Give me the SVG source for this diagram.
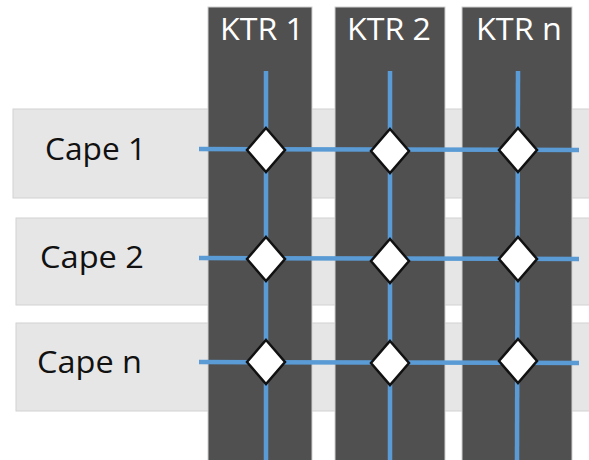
<svg xmlns="http://www.w3.org/2000/svg" width="589" height="460" viewBox="0 0 589 460">
<style>
.row{fill:#e6e6e6;stroke:#d2d2d2;stroke-width:1}
.col{fill:#505050;stroke:#cfcfcf;stroke-width:1}
.ct{font-family:"Open Sans","Noto Sans",sans-serif;font-size:31px;fill:#ffffff}
.rt{font-family:"Open Sans","Noto Sans",sans-serif;font-size:31px;fill:#111111}
.ln{stroke:#5b9bd5;stroke-width:4.5;fill:none}
.dm{fill:#ffffff;stroke:#111111;stroke-width:2.5}
</style>
<rect width="589" height="460" fill="#ffffff"/>
<g id="cape1"><rect class="row" x="13" y="109" width="580" height="89"/><text class="rt" x="45" y="160" textLength="101" lengthAdjust="spacingAndGlyphs">Cape 1</text></g>
<g id="cape2"><rect class="row" x="16" y="218" width="577" height="87"/><text class="rt" x="40" y="268" textLength="104" lengthAdjust="spacingAndGlyphs">Cape 2</text></g>
<g id="capen"><rect class="row" x="16" y="323" width="577" height="88"/><text class="rt" x="37" y="373" textLength="105" lengthAdjust="spacingAndGlyphs">Cape n</text></g>
<g id="ktr1"><rect class="col" x="208" y="7" width="104" height="460"/><text class="ct" x="220" y="40" textLength="84" lengthAdjust="spacingAndGlyphs">KTR 1</text></g>
<g id="ktr2"><rect class="col" x="335" y="7" width="110" height="460"/><text class="ct" x="347" y="40" textLength="84" lengthAdjust="spacingAndGlyphs">KTR 2</text></g>
<g id="ktrn"><rect class="col" x="462" y="7" width="110" height="460"/><text class="ct" x="476" y="40" textLength="86" lengthAdjust="spacingAndGlyphs">KTR n</text></g>
<g id="connectors">
<line class="ln" x1="199" y1="149" x2="579" y2="150"/>
<line class="ln" x1="199" y1="258" x2="579" y2="259"/>
<line class="ln" x1="199" y1="362" x2="579" y2="363"/>
<line class="ln" x1="266" y1="71" x2="266" y2="460"/>
<line class="ln" x1="390" y1="71" x2="390" y2="460"/>
<line class="ln" x1="518" y1="71" x2="517" y2="460"/>
</g>
<g id="junctions">
<polygon class="dm" points="266,128 285,150 266,172 247,150"/>
<polygon class="dm" points="390,129 409,151 390,173 371,151"/>
<polygon class="dm" points="518,128 537,150 518,172 499,150"/>
<polygon class="dm" points="266,237 285,259 266,281 247,259"/>
<polygon class="dm" points="390,239 409,261 390,283 371,261"/>
<polygon class="dm" points="518,237 537,259 518,281 499,259"/>
<polygon class="dm" points="266,340 285,362 266,384 247,362"/>
<polygon class="dm" points="390,341 409,363 390,385 371,363"/>
<polygon class="dm" points="518,339 537,361 518,383 499,361"/>
</g>
</svg>
